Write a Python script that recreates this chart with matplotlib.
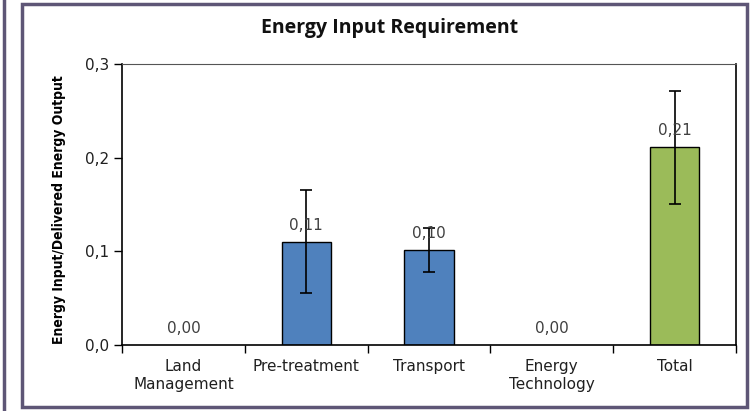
import matplotlib
matplotlib.use("Agg")
import matplotlib.pyplot as plt
from matplotlib.patches import Rectangle
from matplotlib.lines import Line2D

categories = ["Land\nManagement", "Pre-treatment", "Transport", "Energy\nTechnology", "Total"]
values = [0.0, 0.11, 0.101, 0.0, 0.211]
errors = [0.0, 0.055, 0.0235, 0.0, 0.06]
value_labels = ["0,00", "0,11", "0,10", "0,00", "0,21"]
bar_colors = ["#4f81bd", "#4f81bd", "#4f81bd", "#4f81bd", "#9bbb59"]
yticks = [0.0, 0.1, 0.2, 0.3]
ytick_labels = ["0,0", "0,1", "0,2", "0,3"]

fig = plt.figure(figsize=(7.5, 4.11), dpi=100)
W, H = 750, 411
ax = fig.add_axes([122 / W, 1 - 345 / H, (736 - 122) / W, (345 - 64) / H])

x = list(range(len(categories)))
for i in x:
    if values[i] > 0:
        ax.bar(i, values[i], width=0.4, color=bar_colors[i], edgecolor="black", linewidth=1.0, zorder=2)
        ax.errorbar(i, values[i], yerr=errors[i], fmt="none", ecolor="black", elinewidth=1.2,
                    capsize=4, capthick=1.2, zorder=3)
    ax.text(i, values[i] + 0.013, value_labels[i], ha="center", va="baseline", fontsize=11,
            color="#404040", family="DejaVu Sans", zorder=4)

ax.set_xlim(-0.5, len(categories) - 0.5)
ax.set_ylim(0, 0.3)
ax.set_yticks(yticks)
ax.set_yticklabels(ytick_labels, fontsize=11, color="#202020")
ax.set_xticks(x)
ax.set_xticklabels(categories, fontsize=11, color="#202020", linespacing=1.3)
ax.tick_params(axis="x", length=0, pad=10)
ax.tick_params(axis="y", length=6, width=1, direction="out", pad=3)
ax.set_xticks([i + 0.5 for i in range(-1, len(categories))], minor=True)
ax.tick_params(axis="x", which="minor", length=6, width=1, direction="out")
for s in ["left", "bottom", "right"]:
    ax.spines[s].set_color("black")
    ax.spines[s].set_linewidth(1.2)
ax.spines["top"].set_color("#555555")
ax.spines["top"].set_linewidth(0.8)

ax.set_ylabel("Energy Input/Delivered Energy Output", fontsize=10, fontweight="bold",
              fontstretch="condensed", family=["DejaVu Sans"])
ax.yaxis.set_label_coords(-0.092, 0.48)

fig.text(390 / W, 1 - 28 / H, "Energy Input Requirement", ha="center", va="center",
         fontsize=14, fontweight="bold", family=["Open Sans", "DejaVu Sans"], color="#111111")

# Outer frame
fig.patches.append(Rectangle((22 / W, 4 / H), (747 - 22) / W, (407 - 4) / H, transform=fig.transFigure,
                             fill=False, edgecolor="#5e5676", linewidth=2.5))
fig.lines.append(Line2D([4 / W, 4 / W], [0, 1], transform=fig.transFigure, color="#5e5676", linewidth=2.5))

fig.savefig("out.png", dpi=100)
